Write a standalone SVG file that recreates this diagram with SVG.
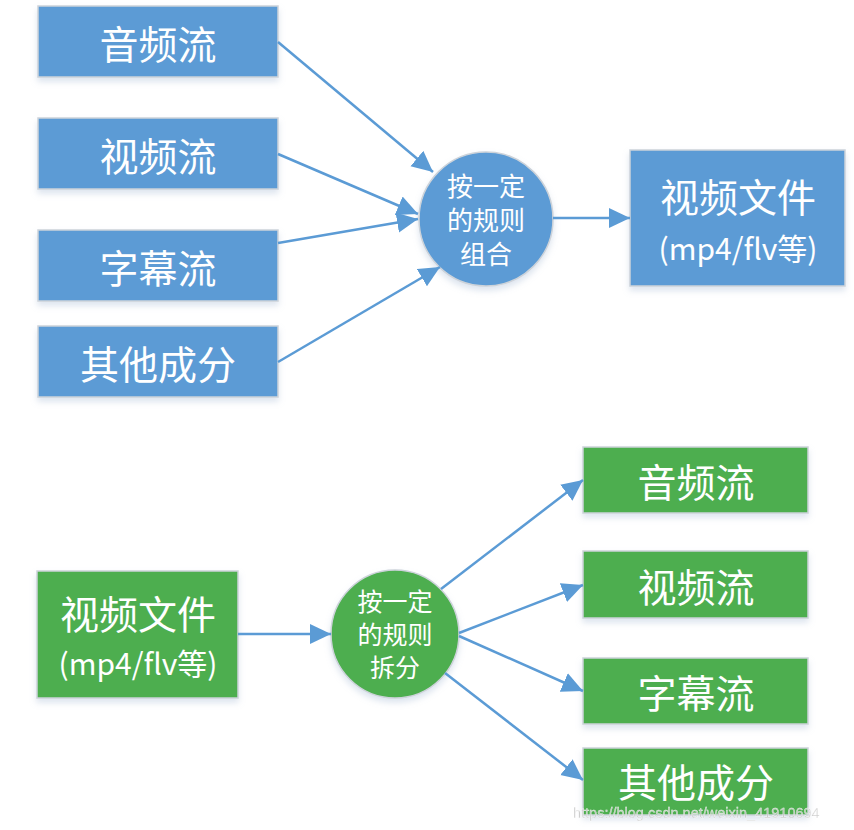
<svg xmlns="http://www.w3.org/2000/svg" width="854" height="830" viewBox="0 0 854 830">
<defs>
<style>
.blue{fill:#5B9BD5;stroke:#cdd3da;stroke-width:1.5}
.green{fill:#4EAE4F;stroke:#cdd3da;stroke-width:1.5}
.lbl{font-family:"Noto Sans CJK SC","Noto Sans",sans-serif;fill:#fff;text-anchor:middle;dominant-baseline:central}
.big{font-size:39px}
.mid{font-size:26px}
.sm{font-size:25px}
.ext{font-size:30px}
.conn line{stroke:#5B9BD5;stroke-width:2.5;fill:none}
</style>
<filter id="sh" x="-10%" y="-10%" width="120%" height="135%">
<feDropShadow dx="0" dy="4" stdDeviation="3" flood-color="#9db4d0" flood-opacity="0.35"/>
</filter>
<marker id="ah" markerUnits="userSpaceOnUse" markerWidth="22" markerHeight="22" viewBox="0 0 22 22" refX="21" refY="11" orient="auto">
<path d="M0,1 L21,11 L0,21 z" fill="#5B9BD5"/>
</marker>
</defs>
<rect width="854" height="830" fill="#fff"/>

<g id="a1"><rect class="blue" x="38" y="6" width="240" height="71" filter="url(#sh)"/><text class="lbl big" x="158" y="42">音频流</text></g>
<g id="a2"><rect class="blue" x="38" y="118" width="240" height="71" filter="url(#sh)"/><text class="lbl big" x="158" y="154">视频流</text></g>
<g id="a3"><rect class="blue" x="38" y="230" width="240" height="71" filter="url(#sh)"/><text class="lbl big" x="158" y="266">字幕流</text></g>
<g id="a4"><rect class="blue" x="38" y="326" width="240" height="71" filter="url(#sh)"/><text class="lbl big" x="158" y="362">其他成分</text></g>
<g id="c1"><ellipse class="blue" cx="486" cy="219" rx="67" ry="67" filter="url(#sh)"/>
<text class="lbl mid" x="486" y="184">按一定</text><text class="lbl mid" x="486" y="218">的规则</text><text class="lbl mid" x="486" y="252">组合</text></g>
<g id="f1"><rect class="blue" x="630" y="150" width="215" height="136" filter="url(#sh)"/>
<text class="lbl big" x="738" y="195">视频文件</text><text class="lbl ext" x="738" y="247">(mp4/flv等)</text></g>

<g id="f2"><rect class="green" x="37" y="571" width="201" height="127" filter="url(#sh)"/>
<text class="lbl big" x="138" y="612">视频文件</text><text class="lbl ext" x="138" y="662">(mp4/flv等)</text></g>
<g id="c2"><ellipse class="green" cx="395" cy="634" rx="64" ry="64" filter="url(#sh)"/>
<text class="lbl sm" x="395" y="600">按一定</text><text class="lbl sm" x="395" y="633">的规则</text><text class="lbl sm" x="395" y="666">拆分</text></g>
<g id="b1"><rect class="green" x="583" y="447" width="225" height="66" filter="url(#sh)"/><text class="lbl big" x="696" y="480">音频流</text></g>
<g id="b2"><rect class="green" x="583" y="551" width="225" height="67" filter="url(#sh)"/><text class="lbl big" x="696" y="585">视频流</text></g>
<g id="b3"><rect class="green" x="583" y="658" width="225" height="66" filter="url(#sh)"/><text class="lbl big" x="696" y="691">字幕流</text></g>
<g id="b4"><rect class="green" x="583" y="748" width="225" height="67" filter="url(#sh)"/><text class="lbl big" x="696" y="780">其他成分</text></g>

<g id="connectors" class="conn">
<line x1="278" y1="42" x2="433" y2="172" marker-end="url(#ah)"/>
<line x1="278" y1="154" x2="418" y2="214" marker-end="url(#ah)"/>
<line x1="278" y1="243" x2="418" y2="219" marker-end="url(#ah)"/>
<line x1="278" y1="362" x2="440" y2="267" marker-end="url(#ah)"/>
<line x1="553" y1="218" x2="630" y2="218" marker-end="url(#ah)"/>
<line x1="238" y1="634" x2="331" y2="634" marker-end="url(#ah)"/>
<line x1="441" y1="589" x2="583" y2="480" marker-end="url(#ah)"/>
<line x1="459" y1="633" x2="583" y2="585" marker-end="url(#ah)"/>
<line x1="459" y1="636" x2="583" y2="691" marker-end="url(#ah)"/>
<line x1="445" y1="673" x2="583" y2="780" marker-end="url(#ah)"/>
</g>
<text x="573" y="818" font-family="Liberation Sans,Arial,sans-serif" font-size="14.5" fill="#c8c8c8" stroke="#fff" stroke-width="0.3" opacity="0.9">https://blog.csdn.net/weixin_41910694</text>
</svg>
